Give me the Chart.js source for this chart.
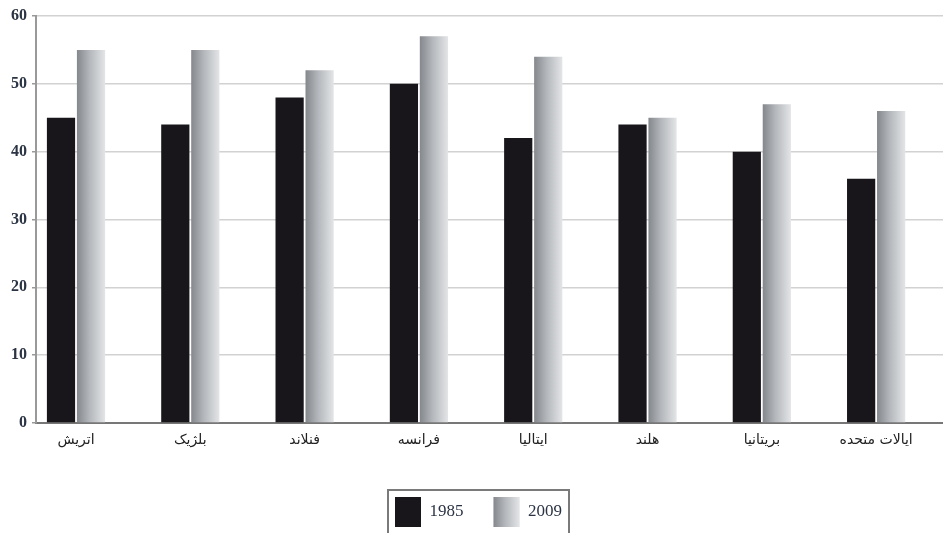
<!DOCTYPE html>
<html>
<head>
<meta charset="utf-8">
<script src="https://cdn.jsdelivr.net/npm/chart.js@4"></script>
<style>
  html, body { margin: 0; padding: 0; background: #fff; }
  #wrap { width: 943px; height: 533px; position: relative; }
</style>
</head>
<body>
<div id="wrap"><canvas id="chart"></canvas></div>
<script>
const categories = ['اتریش', 'بلژیک', 'فنلاند', 'فرانسه', 'ایتالیا', 'هلند', 'بریتانیا', 'ایالات متحده'];
const seriesLabels = ['1985', '2009'];
const values1985 = [45, 44, 48, 50, 42, 44, 40, 36];
const values2009 = [55, 55, 52, 57, 54, 45, 47, 46];
const yTicks = [0, 10, 20, 30, 40, 50, 60];

const CAT_PCT = 0.525;
const BAR_PCT = 0.94;
const LEG_W = 26, LEG_H = 30;
const LEGEND_SHIFT = 7;
const TEXT_COLOR = '#2b3444';

function grayGradient(ctx, left, width) {
  const g = ctx.createLinearGradient(left, 0, left + width, 0);
  g.addColorStop(0, '#84878c');
  g.addColorStop(0.45, '#b4b7bb');
  g.addColorStop(1, '#e3e5e7');
  return g;
}

// gradient per gray bar, positioned from the x scale
function barGradient(c) {
  const chart = c.chart;
  const x = chart.scales && chart.scales.x;
  if (c.dataIndex === undefined || !x || !chart.chartArea) return '#b4b7bb';
  const center = x.getPixelForValue(c.dataIndex);
  const step = x.getPixelForValue(1) - x.getPixelForValue(0);
  const slot = step * CAT_PCT / 2;
  const w = slot * BAR_PCT;
  const left = center + slot / 2 - w / 2;
  return grayGradient(chart.ctx, left, w);
}

const legendFrame = {
  id: 'legendFrame',
  afterLayout(chart) {
    // nudge the legend a little to the right, like the original
    if (chart.legend) {
      chart.legend.left += LEGEND_SHIFT;
      chart.legend.right += LEGEND_SHIFT;
    }
  },
  afterDraw(chart) {
    const boxes = chart.legend && chart.legend.legendHitBoxes;
    if (!boxes || boxes.length < 2) return;
    const ctx = chart.ctx;
    const first = boxes[0], last = boxes[boxes.length - 1];
    ctx.save();
    ctx.fillStyle = grayGradient(ctx, boxes[1].left, LEG_W);
    ctx.fillRect(boxes[1].left, boxes[1].top, LEG_W, LEG_H);
    ctx.strokeStyle = '#7a7a7a';
    ctx.lineWidth = 2;
    ctx.strokeRect(first.left - 7, first.top - 7, last.left + last.width - first.left + 14, LEG_H + 24);
    ctx.restore();
  }
};

new Chart(document.getElementById('chart'), {
  type: 'bar',
  data: {
    datasets: [
      {
        label: seriesLabels[0],
        data: values1985.map((v, i) => ({ x: i, y: v })),
        backgroundColor: '#18161b',
        categoryPercentage: CAT_PCT,
        barPercentage: BAR_PCT
      },
      {
        label: seriesLabels[1],
        data: values2009.map((v, i) => ({ x: i, y: v })),
        backgroundColor: barGradient,
        categoryPercentage: CAT_PCT,
        barPercentage: BAR_PCT
      }
    ]
  },
  options: {
    responsive: true,
    maintainAspectRatio: false,
    animation: false,
    layout: { padding: { top: 16, right: 0, bottom: -4, left: 0 } },
    scales: {
      x: {
        type: 'linear',
        min: -0.35,
        max: 7.585,
        offset: false,
        grid: { display: false },
        border: { display: true, color: '#777', width: 2 },
        afterBuildTicks: s => { s.ticks = categories.map((c, i) => ({ value: i })); },
        afterFit: s => { s.height = 44; },
        ticks: {
          padding: 1,
          maxRotation: 0,
          autoSkip: false,
          color: '#222',
          font: { family: 'DejaVu Sans', size: 14 },
          callback: v => categories[v] || ''
        }
      },
      y: {
        min: 0,
        max: 60,
        afterBuildTicks: s => { s.ticks = yTicks.map(v => ({ value: v })); },
        afterFit: s => { s.width = 36; },
        grid: { color: '#d2d2d2', lineWidth: 1.5, tickLength: 4, tickColor: '#999' },
        border: { display: true, color: '#999', width: 2 },
        ticks: {
          padding: 5,
          color: TEXT_COLOR,
          font: { family: 'Liberation Serif', size: 16, weight: 'bold' }
        }
      }
    },
    plugins: {
      legend: {
        position: 'bottom',
        labels: {
          boxWidth: LEG_W,
          boxHeight: LEG_H,
          padding: 30,
          color: TEXT_COLOR,
          font: { family: 'Liberation Serif', size: 17 }
        }
      },
      tooltip: { enabled: false }
    }
  },
  plugins: [legendFrame]
});
</script>
</body>
</html>
